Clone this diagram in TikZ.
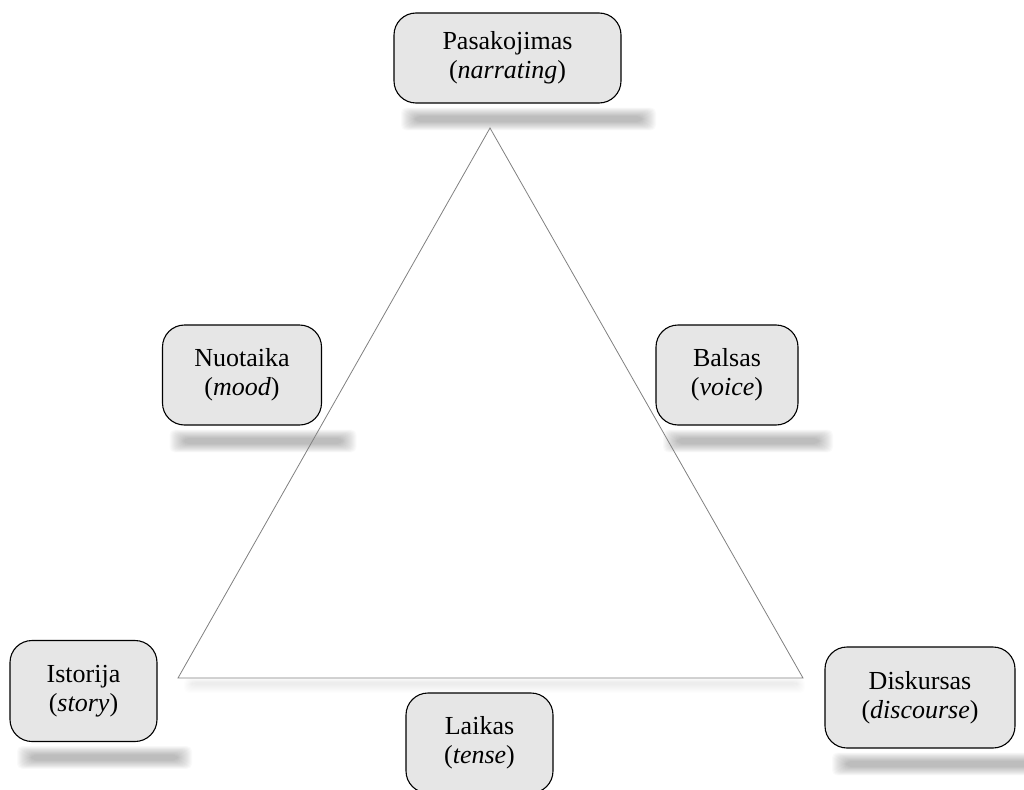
\documentclass[tikz,border=0pt]{standalone}
\usepackage{fontspec}
\setmainfont{Liberation Serif}
\usetikzlibrary{calc}
\definecolor{boxgray}{HTML}{E6E6E6}
\definecolor{trigray}{HTML}{808080}
\tikzset{
  box/.style={draw=black, line width=1.1pt, fill=boxgray, rounded corners=22pt,
    inner sep=0pt, align=center, font=\fontsize{26}{29}\selectfont},
  triline/.style={draw=trigray, line width=0.8pt, line join=miter},
  shadowlayer/.style={fill=black, opacity=0.02, rounded corners=5pt},
}
\begin{document}
\begin{tikzpicture}[x=1pt,y=-1pt]
\useasboundingbox (0,0) rectangle (1024,789);
% triangle corners
\coordinate (A) at (490,128);
\coordinate (BL) at (178,678);
\coordinate (BR) at (803,678);
% faint shadow of the triangle base
\foreach \k in {0,...,8}
  \fill[black, opacity=0.008, rounded corners=5pt]
    ($(BL)+(14-\k,4-0.5*\k)$) rectangle ($(BR)+(-6+\k,7+\k)$);
% node positions
\path
  (507.5,58) coordinate (cP)
  (242,375) coordinate (cN)
  (727,375) coordinate (cB)
  (83.5,691) coordinate (cI)
  (479.5,743) coordinate (cL)
  (920,697.5) coordinate (cD);
% box shadows (soft, blurred bars)
\foreach \x/\y/\w/\h in {507.5/58/227/90, 242/375/159/100, 727/375/142/100, 83.5/691/147/101, 920/697.5/190/101}{
  \foreach \k in {0,...,14}
    \fill[shadowlayer]
      ($(\x-\w/2+21-1.0*\k, \y+\h/2+13-0.6*\k)$) rectangle
      ($(\x+\w/2+21+1.0*\k, \y+\h/2+19+0.6*\k)$);
}
% triangle
\draw[triline] (A) -- (BL) -- (BR) -- cycle;
% boxes
\node[box, minimum width=227pt, minimum height=90pt] (P) at (cP) {Pasakojimas\\(\textit{narrating})};
\node[box, minimum width=159pt, minimum height=100pt] (N) at (cN) {Nuotaika\\(\textit{mood})};
\node[box, minimum width=142pt, minimum height=100pt] (B) at (cB) {Balsas\\(\textit{voice})};
\node[box, minimum width=147pt, minimum height=101pt] (I) at (cI) {Istorija\\(\textit{story})};
\node[box, minimum width=147pt, minimum height=100pt] (L) at (cL) {Laikas\\(\textit{tense})};
\node[box, minimum width=190pt, minimum height=101pt] (D) at (cD) {Diskursas\\(\textit{discourse})};
\end{tikzpicture}
\end{document}
